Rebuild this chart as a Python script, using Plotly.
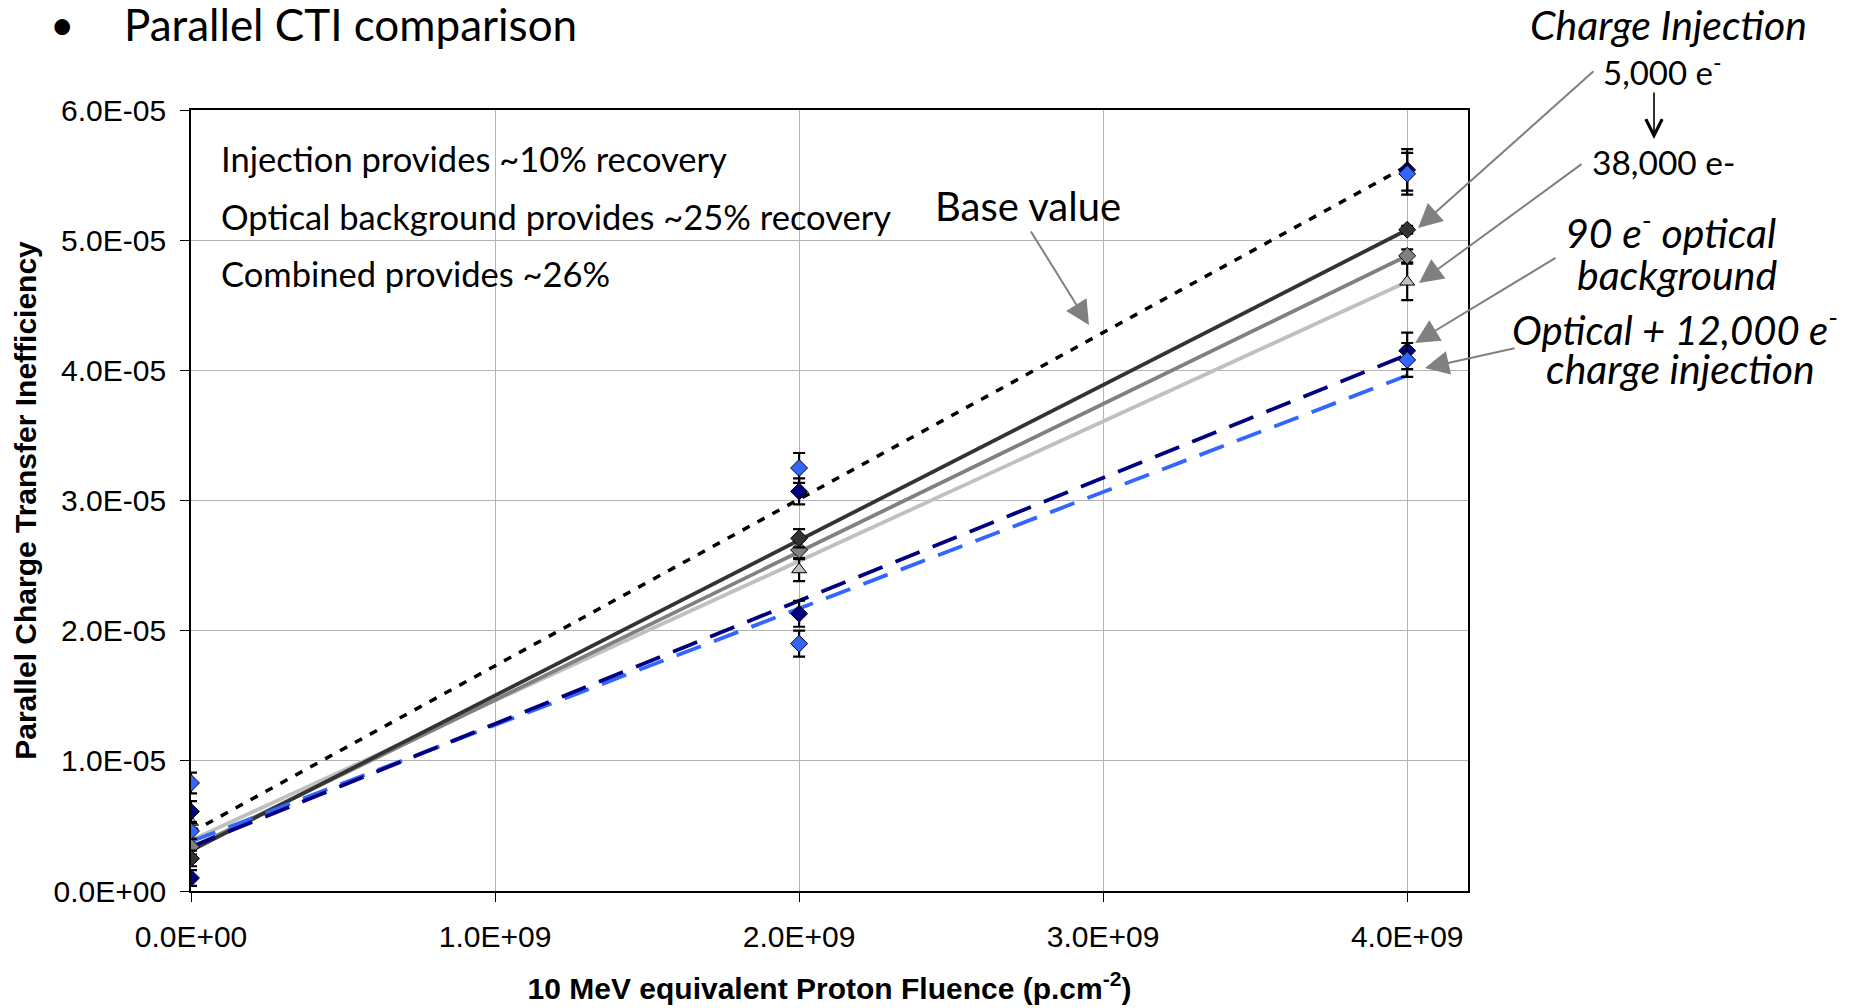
import plotly.graph_objects as go

# ---------------- data ----------------
fluence = [0.0, 2.0e9, 4.0e9]

base_a = [6.1e-6, 3.07e-5, 5.54e-5]
base_a_err = [0.8e-6, 1.0e-6, 1.6e-6]
base_b = [8.3e-6, 3.25e-5, 5.51e-5]
base_b_err = [0.8e-6, 1.15e-6, 1.6e-6]
inj_5000 = [2.5e-6, 2.71e-5, 5.08e-5]
inj_5000_err = [0.6e-6, 0.7e-6, 0.3e-6]
inj_mid = [3.4e-6, 2.62e-5, 4.88e-5]
inj_mid_err = [0.6e-6, 0.7e-6, 0.5e-6]
inj_38000 = [5.3e-6, 2.47e-5, 4.68e-5]
inj_38000_err = [0.7e-6, 0.9e-6, 1.4e-6]
optical = [1.0e-6, 2.13e-5, 4.15e-5]
optical_err = [0.6e-6, 1.0e-6, 1.4e-6]
opt_inj = [4.6e-6, 1.90e-5, 4.08e-5]
opt_inj_err = [0.6e-6, 1.0e-6, 1.3e-6]

# linear trend lines (value at start / end)
trend_x = [0.0, 4.0e9]
base_fit = [4.5e-6, 5.57e-5]
inj_5000_fit = [3.1e-6, 5.08e-5]
inj_mid_fit = [3.3e-6, 4.88e-5]
inj_38000_fit = [3.9e-6, 4.68e-5]
optical_fit = [3.4e-6, 4.12e-5]
opt_inj_fit = [3.8e-6, 3.96e-5]

x_tick_vals = [0.0, 1.0e9, 2.0e9, 3.0e9, 4.0e9]
x_tick_text = ["0.0E+00", "1.0E+09", "2.0E+09", "3.0E+09", "4.0E+09"]
y_tick_vals = [0.0, 1e-5, 2e-5, 3e-5, 4e-5, 5e-5, 6e-5]
y_tick_text = ["0.0E+00", "1.0E-05", "2.0E-05", "3.0E-05", "4.0E-05", "5.0E-05", "6.0E-05"]

# ---------------- layout geometry (page pixels) ----------------
W, H = 1856, 1008
OFF = 8  # default body margin of the html page
L, R, T, B = 191, 1468, 110, 891


def px(x):
    return (x - L) / (R - L)


def py(y):
    return (B - y) / (B - T)


NAVY = "#000080"
LBLUE = "#3366FF"
DGRAY = "#333333"
MGRAY = "#808080"
LGRAY = "#C0C0C0"
ARROW = "#808080"

CAL = "Lato, 'Open Sans', sans-serif"
ARIAL = "'Liberation Sans Narrow', 'Arial Narrow', 'Liberation Sans', Arial, sans-serif"

fig = go.Figure()

# trend lines
fig.add_trace(go.Scatter(x=trend_x, y=base_fit, mode="lines",
                         line=dict(color="black", width=3.5, dash="8px,9px"), hoverinfo="skip"))
fig.add_trace(go.Scatter(x=trend_x, y=inj_38000_fit, mode="lines",
                         line=dict(color=LGRAY, width=3.8), hoverinfo="skip"))
fig.add_trace(go.Scatter(x=trend_x, y=inj_mid_fit, mode="lines",
                         line=dict(color=MGRAY, width=3.8), hoverinfo="skip"))
fig.add_trace(go.Scatter(x=trend_x, y=inj_5000_fit, mode="lines",
                         line=dict(color=DGRAY, width=3.8), hoverinfo="skip"))
fig.add_trace(go.Scatter(x=trend_x, y=opt_inj_fit, mode="lines",
                         line=dict(color=LBLUE, width=3.8, dash="26px,14px"), hoverinfo="skip"))
fig.add_trace(go.Scatter(x=trend_x, y=optical_fit, mode="lines",
                         line=dict(color=NAVY, width=3.8, dash="26px,14px"), hoverinfo="skip"))


def pts(y, err, color, symbol="diamond", size=13):
    fig.add_trace(go.Scatter(
        x=fluence, y=y, mode="markers",
        marker=dict(symbol=symbol, size=size, color=color,
                    line=dict(color="black", width=1)),
        error_y=dict(type="data", array=err, visible=True,
                     color="black", thickness=2.2, width=6),
    ))


pts(inj_38000, inj_38000_err, LGRAY, symbol="triangle-up", size=13)
pts(inj_mid, inj_mid_err, MGRAY)
pts(inj_5000, inj_5000_err, DGRAY)
pts(optical, optical_err, NAVY)
pts(opt_inj, opt_inj_err, LBLUE)
pts(base_a, base_a_err, NAVY)
pts(base_b, base_b_err, LBLUE)

annotations = []

# title
annotations.append(dict(x=px(62), y=py(24), xref="paper", yref="paper", text="•",
                        showarrow=False, xanchor="center", yanchor="middle",
                        font=dict(family=CAL, size=42, color="black")))
annotations.append(dict(x=px(122), y=py(24), xref="paper", yref="paper",
                        text="Parallel CTI comparison",
                        showarrow=False, xanchor="left", yanchor="middle",
                        font=dict(family=CAL, size=44, color="black")))

# text inside plot
for txt, yy in [("Injection provides ~10% recovery", 159),
                ("Optical background provides ~25% recovery", 217),
                ("Combined provides ~26%", 273)]:
    annotations.append(dict(x=px(219), y=py(yy), xref="paper", yref="paper", text=txt,
                            showarrow=False, xanchor="left", yanchor="middle",
                            font=dict(family=CAL, size=34.5, color="black")))

annotations.append(dict(x=px(1028), y=py(206), xref="paper", yref="paper", text="Base value",
                        showarrow=False, xanchor="center", yanchor="middle",
                        font=dict(family=CAL, size=40, color="black")))

# right-hand labels
right_labels = [
    ("<i>Charge Injection</i>", 1668, 25, 41),
    ("5,000 e<sup>-</sup>", 1662, 70, 33),
    ("38,000 e-", 1663, 162, 33.5),
    ("<i>90 e<sup>-</sup> optical</i>", 1670, 230, 41),
    ("<i>background</i>", 1677, 274, 41),
    ("<i>Optical + 12,000 e<sup>-</sup></i>", 1675, 327, 40),
    ("<i>charge injection</i>", 1680, 368, 41),
]
for txt, xx, yy, sz in right_labels:
    annotations.append(dict(x=px(xx), y=py(yy), xref="paper", yref="paper", text=txt,
                            showarrow=False, xanchor="center", yanchor="middle",
                            font=dict(family=CAL, size=sz, color="black")))

# arrows: (head_x, head_y, tail_x, tail_y)
gray_arrows = [
    (1418, 228, 1595, 70),
    (1419, 283, 1583, 163),
    (1415, 343, 1557, 257),
    (1425, 368, 1516, 348),
    (1089, 325, 1030, 230),
]
for hx, hy, tx, ty in gray_arrows:
    annotations.append(dict(x=px(hx), y=py(hy), xref="paper", yref="paper", text="",
                            showarrow=True, ax=tx - hx, ay=ty - hy, axref="pixel", ayref="pixel",
                            arrowcolor=ARROW, arrowwidth=2, arrowhead=2, arrowsize=2.4,
                            standoff=0))
annotations.append(dict(x=px(1654), y=py(139), xref="paper", yref="paper", text="",
                        showarrow=True, ax=0, ay=-48, arrowcolor="black", arrowwidth=1.6,
                        arrowhead=5, arrowsize=2, standoff=0))

shapes = [dict(type="rect", xref="paper", yref="paper", layer="between",
               x0=px(202), x1=px(986), y0=py(367), y1=py(126),
               fillcolor="white", line=dict(width=0))]

fig.update_layout(
    width=W - OFF, height=H - OFF,
    margin=dict(l=L - OFF, r=W - R, t=T - OFF, b=H - B, autoexpand=False),
    paper_bgcolor="white", plot_bgcolor="white",
    showlegend=False,
    annotations=annotations,
    shapes=shapes,
    xaxis=dict(range=[0, 4.2e9], tickvals=x_tick_vals, ticktext=x_tick_text,
               showgrid=True, gridcolor="#B4B4B4", gridwidth=1, zeroline=False,
               showline=True, linecolor="black", linewidth=1.6, mirror=True,
               ticks="outside", ticklen=9, tickcolor="black", tickwidth=1.4,
               ticklabelstandoff=9,
               tickfont=dict(family=ARIAL, size=30, color="black"),
               title=dict(text="<b>10 MeV equivalent Proton Fluence (p.cm<sup>-2</sup>)</b>",
                          font=dict(family=ARIAL, size=30, color="black"), standoff=26),
               automargin=False),
    yaxis=dict(range=[0, 6e-5], tickvals=y_tick_vals, ticktext=y_tick_text,
               showgrid=True, gridcolor="#B4B4B4", gridwidth=1, zeroline=False,
               showline=True, linecolor="black", linewidth=1.8, mirror=True,
               ticks="outside", ticklen=9, tickcolor="black", tickwidth=1.4,
               ticklabelstandoff=8,
               tickfont=dict(family=ARIAL, size=30, color="black"),
               title=dict(text="<b>Parallel Charge Transfer Inefficiency</b>",
                          font=dict(family=ARIAL, size=30, color="black"), standoff=8),
               automargin=False),
)

fig.write_html("out.html")
